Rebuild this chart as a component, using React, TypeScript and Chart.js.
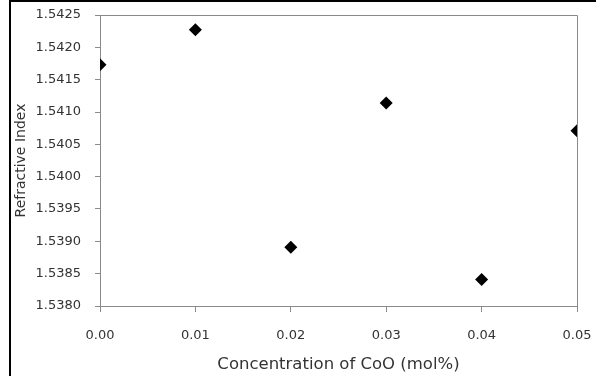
import React, { useEffect, useRef } from "react";
import { Chart, registerables } from "chart.js";

Chart.register(...registerables);

const concentrations = [0.0, 0.01, 0.02, 0.03, 0.04, 0.05];
const refractiveIndex = [1.54173, 1.54227, 1.53891, 1.54114, 1.53841, 1.54071];
const xTickLabels = ["0.00", "0.01", "0.02", "0.03", "0.04", "0.05"];
const yTickLabels = ["1.5380", "1.5385", "1.5390", "1.5395", "1.5400", "1.5405", "1.5410", "1.5415", "1.5420", "1.5425"];
const xTitle = "Concentration of CoO (mol%)";
const yTitle = "Refractive Index";

const AXIS_COLOR = "#8a8a8a";
const TEXT_COLOR = "#333333";
const FONT = "'DejaVu Sans', Verdana, sans-serif";

export default function App() {
  const ref = useRef<HTMLCanvasElement | null>(null);

  useEffect(() => {
    const canvas = ref.current;
    if (!canvas) return;
    const frame = {
      id: "frame",
      beforeDraw(chart: any) {
        const ctx = chart.ctx;
        ctx.save();
        ctx.fillStyle = "#ffffff";
        ctx.fillRect(0, 0, chart.width, chart.height);
        ctx.restore();
      },
      afterDraw(chart: any) {
        const ctx = chart.ctx;
        const a = chart.chartArea;
        ctx.save();
        ctx.strokeStyle = AXIS_COLOR;
        ctx.lineWidth = 1;
        ctx.beginPath();
        ctx.moveTo(a.left, a.top + 0.5);
        ctx.lineTo(a.right + 0.5, a.top + 0.5);
        ctx.lineTo(a.right + 0.5, a.bottom);
        ctx.stroke();
        ctx.fillStyle = "#000000";
        ctx.fillRect(9, 0, chart.width - 9, 2);
        ctx.fillRect(9, 0, 2, chart.height);
        ctx.restore();
      },
    };
    const chart = new Chart(canvas, {
      type: "scatter",
      data: {
        datasets: [
          {
            data: concentrations.map((x, i) => ({ x, y: refractiveIndex[i] })),
            pointStyle: "rectRot",
            pointRadius: 6.5,
            pointBackgroundColor: "#000000",
            pointBorderColor: "#000000",
            pointBorderWidth: 0,
          },
        ],
      },
      options: {
        animation: false,
        responsive: false,
        maintainAspectRatio: false,
        layout: { padding: { left: 0, top: 15, right: 19, bottom: 0 } },
        plugins: { legend: { display: false }, tooltip: { enabled: false } },
        scales: {
          x: {
            type: "linear",
            min: 0,
            max: 0.05,
            afterFit(scale: any) {
              scale.height = 70;
              scale.paddingLeft = 0;
              scale.paddingRight = 0;
            },
            afterBuildTicks(scale: any) {
              scale.ticks = xTickLabels.map((t) => ({ value: parseFloat(t) }));
            },
            ticks: {
              color: TEXT_COLOR,
              font: { family: FONT, size: 13 },
              padding: 16,
              maxRotation: 0,
              callback: (v: any) => Number(v).toFixed(2),
            },
            grid: {
              drawOnChartArea: false,
              drawTicks: true,
              tickLength: 6,
              color: AXIS_COLOR,
            },
            border: { color: AXIS_COLOR, width: 1 },
            title: {
              display: true,
              text: xTitle,
              color: TEXT_COLOR,
              font: { family: FONT, size: 16.5 },
              padding: { top: 0, bottom: 1 },
            },
          },
          y: {
            type: "linear",
            min: 1.538,
            max: 1.5425,
            afterFit(scale: any) {
              scale.width = 100;
              scale.paddingTop = 0;
              scale.paddingBottom = 0;
            },
            afterBuildTicks(scale: any) {
              scale.ticks = yTickLabels.map((t) => ({ value: parseFloat(t) }));
            },
            ticks: {
              color: TEXT_COLOR,
              font: { family: FONT, size: 13 },
              padding: 14,
              callback: (v: any) => Number(v).toFixed(4),
            },
            grid: {
              drawOnChartArea: false,
              drawTicks: true,
              tickLength: 5,
              color: AXIS_COLOR,
            },
            border: { color: AXIS_COLOR, width: 1 },
            title: {
              display: true,
              text: yTitle,
              color: TEXT_COLOR,
              font: { family: FONT, size: 14 },
              padding: { top: 13, bottom: 0 },
            },
          },
        },
      },
      plugins: [frame],
    } as any);
    return () => chart.destroy();
  }, []);

  return (
    <div style={{ position: "absolute", left: 0, top: 0, width: 596, height: 376 }}>
      <canvas ref={ref} width={596} height={376} style={{ display: "block", width: 596, height: 376 }} />
    </div>
  );
}
